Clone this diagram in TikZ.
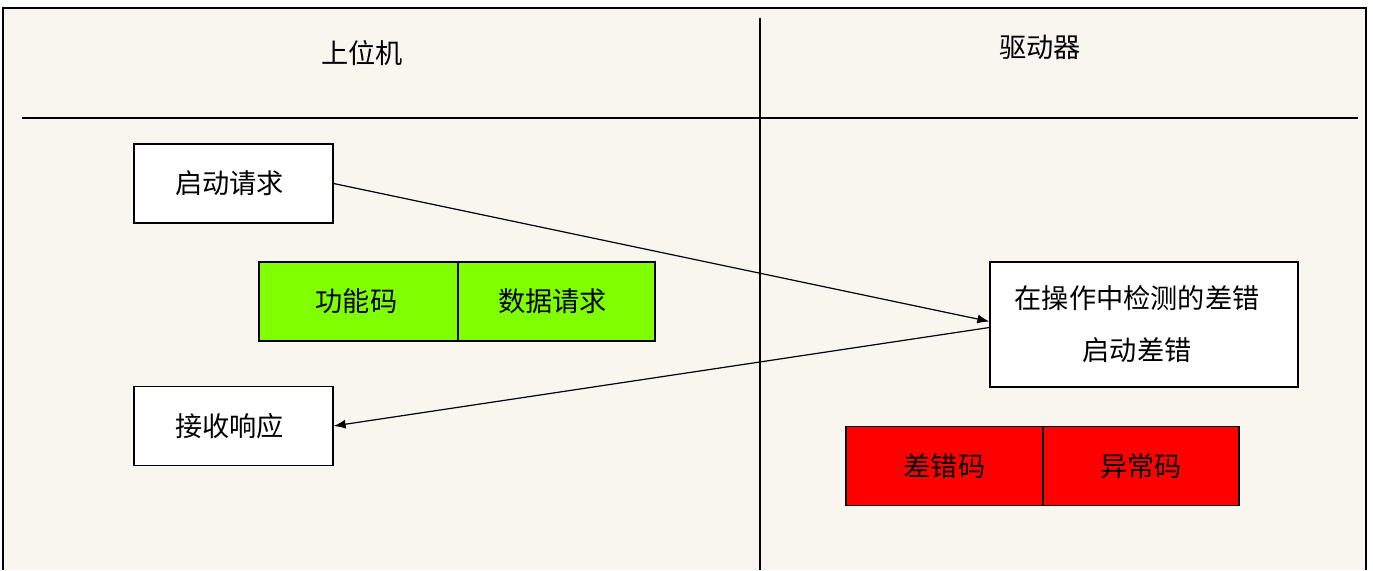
\documentclass[tikz,border=0pt]{standalone}
\usepackage{fontspec}
\newfontfamily\cjk{Noto Sans CJK SC}
\usepackage{tikz}
\usetikzlibrary{arrows.meta}
\definecolor{paper}{HTML}{F9F6F0}
\definecolor{codegreen}{HTML}{80FF00}
\definecolor{codered}{HTML}{FF0000}
\begin{document}
\begin{tikzpicture}[x=0.5pt,y=0.5pt,
    every node/.style={font=\cjk\fontsize{13.6pt}{16pt}\selectfont},
    msgbox/.style={shape=rectangle,draw=black,fill=white,line width=0.6pt,minimum width=99.5pt,minimum height=39.5pt,inner sep=0pt},
    greenbox/.style={msgbox,fill=codegreen},
    redbox/.style={msgbox,fill=codered,minimum width=98.5pt},
    msgarrow/.style={-{Latex[length=6pt,width=4.5pt]},line width=0.6pt}]
    \useasboundingbox (0,0) rectangle (1373,570);
    \fill[paper] (3,0) rectangle (1366,562);
    \draw[line width=0.6pt] (3,0) -- (3,562) -- (1366,562) -- (1366,0);
    \draw[line width=0.6pt] (22,452) -- (1358,452);
    \draw[line width=0.6pt] (760,552) -- (760,0);
    \node (host) at (362,517) {上位机};
    \node (drive) at (1040,523) {驱动器};
    \node[msgbox] (req) at (233.5,386.5) {启动请求\hspace*{4pt}};
    \node[greenbox] (func) at (358.5,268.5) {功能码\hspace*{2pt}};
    \node[greenbox,minimum width=98.5pt] (data) at (556.5,268.5) {数据请求\hspace*{4pt}};
    \node[msgbox] (resp) at (233.5,144) {接收响应\hspace*{4pt}};
    \node[msgbox,minimum width=154pt,minimum height=62.5pt,align=center] (detect) at (1144,245.5) {在操作中检测的差错\hspace*{7pt}\\[10pt]启动差错\hspace*{7pt}};
    \node[redbox] (err) at (944.5,104) {差错码};
    \node[redbox,minimum width=98pt] (exc) at (1141,104) {异常码};
    \path [msgarrow] (req.east) edge ([yshift=1.5pt]detect.west);
    \path [msgarrow] ([yshift=-1.5pt]detect.west) edge (resp.east);
\end{tikzpicture}
\end{document}
